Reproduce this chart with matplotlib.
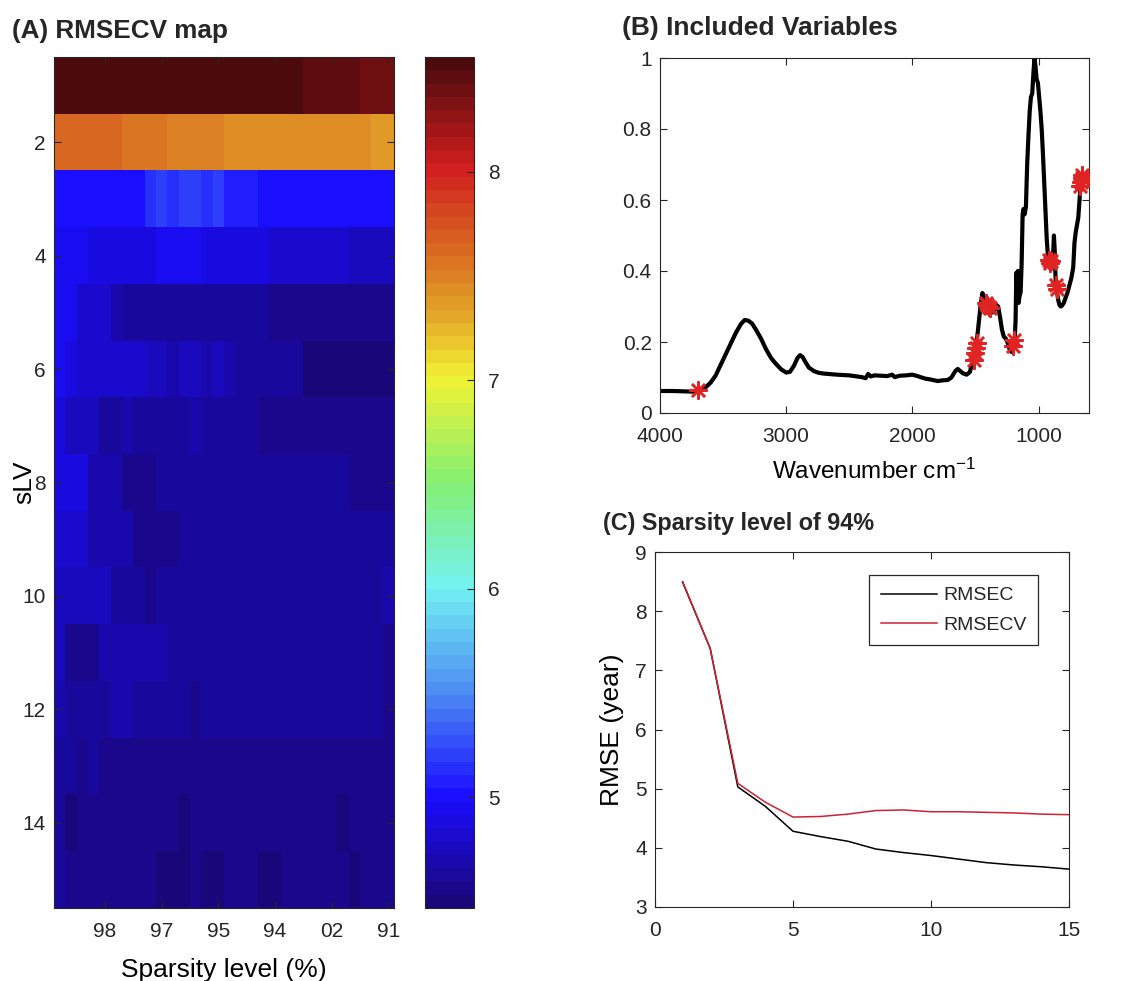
import numpy as np
import matplotlib
matplotlib.use("Agg")
import matplotlib.pyplot as plt
from matplotlib.colors import LinearSegmentedColormap

plt.rcParams.update({
    "font.family": ["Liberation Sans", "DejaVu Sans"],
    "mathtext.fontset": "custom",
    "mathtext.rm": "Liberation Sans",
    "mathtext.it": "Liberation Sans",
    "text.color": "#262626",
})

W, H = 1147, 981
TXT = "#262626"

# (A) RMSECV map : 15 sLV x 30 sparsity levels
rmsecv_map = np.array([
    [8.51, 8.51, 8.50, 8.51, 8.50, 8.50, 8.51, 8.50, 8.50, 8.51, 8.50, 8.50, 8.51, 8.50, 8.50, 8.50, 8.50, 8.51, 8.50, 8.50, 8.50, 8.49, 8.43, 8.43, 8.44, 8.43, 8.43, 8.38, 8.38, 8.39],
    [7.63, 7.64, 7.63, 7.62, 7.63, 7.62, 7.55, 7.55, 7.56, 7.55, 7.48, 7.48, 7.49, 7.48, 7.48, 7.43, 7.43, 7.42, 7.43, 7.43, 7.42, 7.43, 7.43, 7.42, 7.43, 7.43, 7.42, 7.43, 7.35, 7.35],
    [4.98, 4.99, 4.98, 4.98, 4.99, 4.98, 4.98, 4.99, 5.17, 5.18, 5.17, 5.23, 5.18, 5.17, 5.18, 5.10, 5.09, 5.10, 5.00, 4.99, 4.99, 5.00, 4.99, 4.99, 4.98, 4.99, 4.99, 4.98, 4.98, 4.99],
    [4.97, 4.97, 4.96, 4.89, 4.89, 4.90, 4.89, 4.89, 4.90, 4.95, 4.96, 4.95, 4.95, 4.89, 4.88, 4.88, 4.89, 4.88, 4.88, 4.80, 4.81, 4.80, 4.80, 4.81, 4.80, 4.80, 4.77, 4.77, 4.78, 4.77],
    [4.93, 4.92, 4.80, 4.80, 4.79, 4.67, 4.66, 4.65, 4.66, 4.65, 4.64, 4.65, 4.66, 4.65, 4.64, 4.64, 4.65, 4.64, 4.63, 4.58, 4.57, 4.58, 4.57, 4.57, 4.58, 4.57, 4.57, 4.58, 4.57, 4.57],
    [4.92, 4.91, 4.80, 4.79, 4.80, 4.80, 4.79, 4.80, 4.73, 4.73, 4.72, 4.73, 4.73, 4.72, 4.73, 4.72, 4.66, 4.66, 4.65, 4.66, 4.66, 4.65, 4.53, 4.52, 4.52, 4.53, 4.52, 4.52, 4.53, 4.52],
    [4.90, 4.78, 4.78, 4.77, 4.66, 4.66, 4.67, 4.66, 4.66, 4.65, 4.66, 4.66, 4.67, 4.66, 4.65, 4.66, 4.66, 4.65, 4.57, 4.57, 4.58, 4.57, 4.57, 4.56, 4.57, 4.57, 4.58, 4.57, 4.57, 4.57],
    [4.86, 4.88, 4.90, 4.72, 4.72, 4.71, 4.56, 4.55, 4.56, 4.63, 4.63, 4.64, 4.63, 4.63, 4.62, 4.63, 4.64, 4.63, 4.63, 4.62, 4.63, 4.63, 4.64, 4.63, 4.63, 4.62, 4.58, 4.58, 4.57, 4.58],
    [4.82, 4.83, 4.81, 4.70, 4.70, 4.71, 4.70, 4.57, 4.56, 4.57, 4.58, 4.63, 4.63, 4.64, 4.63, 4.63, 4.62, 4.63, 4.63, 4.64, 4.63, 4.63, 4.62, 4.63, 4.63, 4.64, 4.63, 4.63, 4.62, 4.63],
    [4.75, 4.76, 4.75, 4.74, 4.75, 4.60, 4.61, 4.60, 4.59, 4.60, 4.60, 4.61, 4.64, 4.64, 4.63, 4.64, 4.64, 4.63, 4.64, 4.64, 4.63, 4.64, 4.64, 4.63, 4.64, 4.64, 4.63, 4.64, 4.64, 4.70],
    [4.75, 4.58, 4.57, 4.58, 4.68, 4.68, 4.67, 4.68, 4.68, 4.67, 4.62, 4.62, 4.64, 4.64, 4.63, 4.64, 4.64, 4.63, 4.64, 4.64, 4.63, 4.64, 4.64, 4.63, 4.64, 4.64, 4.63, 4.64, 4.63, 4.58],
    [4.70, 4.62, 4.62, 4.61, 4.62, 4.68, 4.68, 4.60, 4.60, 4.61, 4.60, 4.60, 4.59, 4.60, 4.60, 4.61, 4.60, 4.66, 4.66, 4.66, 4.60, 4.66, 4.66, 4.65, 4.66, 4.60, 4.60, 4.61, 4.60, 4.59],
    [4.66, 4.60, 4.59, 4.60, 4.58, 4.58, 4.59, 4.58, 4.58, 4.59, 4.58, 4.58, 4.59, 4.58, 4.58, 4.59, 4.58, 4.58, 4.59, 4.58, 4.58, 4.59, 4.58, 4.58, 4.59, 4.58, 4.58, 4.59, 4.58, 4.58],
    [4.62, 4.53, 4.58, 4.58, 4.57, 4.58, 4.58, 4.57, 4.58, 4.58, 4.57, 4.53, 4.58, 4.58, 4.57, 4.58, 4.58, 4.57, 4.58, 4.58, 4.57, 4.58, 4.58, 4.57, 4.58, 4.53, 4.58, 4.57, 4.58, 4.58],
    [4.60, 4.57, 4.57, 4.56, 4.57, 4.57, 4.56, 4.57, 4.57, 4.52, 4.52, 4.53, 4.57, 4.52, 4.52, 4.57, 4.56, 4.57, 4.52, 4.52, 4.57, 4.56, 4.57, 4.57, 4.56, 4.57, 4.52, 4.57, 4.57, 4.56],
])
sparsity_tick_pos = [5, 10, 15, 20, 25, 30]
sparsity_tick_lab = ["98", "97", "95", "94", "02", "91"]
slv_ticks = [2, 4, 6, 8, 10, 12, 14]
cbar_ticks = [5, 6, 7, 8]
cbar_lim = (4.47, 8.55)

# (B) spectre moyen + variables retenues
wavenumber = [4000, 3900, 3800, 3720, 3680, 3640, 3600, 3560, 3520, 3480, 3440, 3400, 3360, 3330,
              3300, 3270, 3240, 3200, 3160, 3120, 3080, 3040, 3000, 2970, 2940, 2910, 2890, 2870,
              2850, 2820, 2780, 2740, 2700, 2600, 2500, 2400, 2370, 2350, 2330, 2300, 2200, 2160,
              2140, 2100, 2050, 2000, 1960, 1900, 1850, 1800, 1760, 1720, 1690, 1660, 1640, 1620,
              1600, 1570, 1545, 1525, 1505, 1490, 1475, 1460, 1445, 1435, 1420, 1400, 1380, 1365,
              1350, 1335, 1320, 1305, 1290, 1275, 1260, 1245, 1230, 1215, 1200, 1190, 1182, 1176,
              1170, 1164, 1158, 1150, 1142, 1134, 1126, 1118, 1110, 1100, 1090, 1080, 1070, 1060,
              1050, 1040, 1032, 1025, 1015, 1005, 995, 985, 975, 965, 955, 945, 935, 925, 915, 905,
              895, 885, 878, 872, 865, 855, 845, 835, 825, 815, 800, 785, 770, 755, 740, 725, 715,
              705, 695, 685, 675, 665, 655, 645]
absorbance = [0.062, 0.062, 0.061, 0.060, 0.064, 0.072, 0.085, 0.105, 0.135, 0.165, 0.195, 0.225, 0.250, 0.262,
              0.260, 0.252, 0.235, 0.210, 0.180, 0.155, 0.138, 0.123, 0.114, 0.116, 0.132, 0.155, 0.163, 0.158,
              0.145, 0.128, 0.118, 0.113, 0.111, 0.108, 0.106, 0.101, 0.098, 0.110, 0.103, 0.106, 0.104, 0.108,
              0.101, 0.105, 0.106, 0.108, 0.104, 0.097, 0.094, 0.090, 0.092, 0.093, 0.100, 0.118, 0.124, 0.118,
              0.112, 0.108, 0.115, 0.140, 0.175, 0.200, 0.250, 0.300, 0.338, 0.330, 0.310, 0.305, 0.295, 0.283,
              0.288, 0.305, 0.300, 0.270, 0.235, 0.215, 0.210, 0.198, 0.180, 0.172, 0.185, 0.200, 0.260, 0.395,
              0.340, 0.400, 0.310, 0.330, 0.340, 0.420, 0.560, 0.575, 0.560, 0.580, 0.700, 0.780, 0.850, 0.890,
              0.900, 0.960, 1.000, 0.980, 0.940, 0.930, 0.890, 0.850, 0.800, 0.730, 0.650, 0.570, 0.490, 0.440,
              0.425, 0.420, 0.425, 0.440, 0.500, 0.460, 0.380, 0.345, 0.320, 0.305, 0.300, 0.302, 0.310, 0.325,
              0.340, 0.360, 0.380, 0.410, 0.480, 0.510, 0.530, 0.550, 0.600, 0.650, 0.660, 0.670]
sel_wn = [3696, 1515, 1505, 1497, 1490, 1420, 1408, 1396, 1386, 1200, 1192,
          918, 908, 898, 858, 852, 668, 662, 657, 652]
sel_abs = [0.064, 0.150, 0.168, 0.182, 0.198, 0.310, 0.305, 0.300, 0.295, 0.188, 0.205,
           0.430, 0.422, 0.428, 0.360, 0.350, 0.640, 0.652, 0.662, 0.670]

# (C) sparsité 94 %
n_lv = [1, 2, 3, 4, 5, 6, 7, 8, 9, 10, 11, 12, 13, 14, 15]
rmsec = [8.49, 7.37, 5.03, 4.70, 4.28, 4.19, 4.11, 3.98, 3.92, 3.87, 3.81, 3.75, 3.71, 3.68, 3.64]
rmsecv = [8.50, 7.37, 5.09, 4.77, 4.52, 4.53, 4.57, 4.63, 4.64, 4.61, 4.61, 4.60, 4.59, 4.57, 4.56]

# jet assombri, comme dans la figure d'origine
JET_SOMBRE = [
    (0.000, (0.10, 0.03, 0.48)),
    (0.125, (0.10, 0.05, 1.00)),
    (0.250, (0.30, 0.55, 0.95)),
    (0.375, (0.45, 0.95, 0.95)),
    (0.500, (0.52, 0.94, 0.45)),
    (0.625, (0.95, 0.95, 0.20)),
    (0.700, (0.89, 0.65, 0.16)),
    (0.775, (0.85, 0.42, 0.13)),
    (0.875, (0.82, 0.12, 0.12)),
    (1.000, (0.30, 0.04, 0.05)),
]


def matlab_axes(ax, xpad=10, ypad=6):
    ax.tick_params(direction="in", top=True, right=True, length=5, width=0.8,
                   color=TXT, labelcolor=TXT, labelsize=15)
    ax.tick_params(axis="x", pad=xpad)
    ax.tick_params(axis="y", pad=ypad)
    for sp in ax.spines.values():
        sp.set_linewidth(0.8)
        sp.set_color(TXT)


fig = plt.figure(figsize=(W / 100, H / 100), dpi=100)

# ---- (A)
axA = fig.add_axes([54 / W, 1 - 908 / H, 340 / W, 851 / H])
cmap = LinearSegmentedColormap.from_list("jet_sombre", JET_SOMBRE, N=64)
ncol = rmsecv_map.shape[1]
nrow = rmsecv_map.shape[0]
im = axA.imshow(rmsecv_map, cmap=cmap, vmin=cbar_lim[0], vmax=cbar_lim[1], aspect="auto",
                interpolation="nearest", extent=(0.5, ncol + 0.5, nrow + 0.5, 0.5))
axA.set_xticks(sparsity_tick_pos)
axA.set_xticklabels(sparsity_tick_lab)
axA.set_yticks(slv_ticks)
matlab_axes(axA)
axA.set_xlabel("Sparsity level (%)", fontsize=19, labelpad=12)
# dans la figure d'origine le label "sLV" chevauche la graduation 8
axA.set_ylabel("sLV", fontsize=19)
axA.yaxis.set_label_coords(-0.052, 0.5)

cax = fig.add_axes([425 / W, 1 - 908 / H, 49 / W, 851 / H])
cb = fig.colorbar(im, cax=cax, ticks=cbar_ticks)
cb.ax.tick_params(direction="in", length=5, width=0.8, color=TXT, labelcolor=TXT,
                  labelsize=15, pad=10)
cb.outline.set_linewidth(0.8)
cb.outline.set_edgecolor(TXT)

# ---- (B)
axB = fig.add_axes([660 / W, 1 - 413 / H, 429 / W, 355 / H])
axB.plot(wavenumber, absorbance, color="black", lw=3.0, zorder=2)
axB.plot(sel_wn, sel_abs, linestyle="none", marker=(8, 2, 0), markersize=13,
         markeredgewidth=1.8, color="#e02424", zorder=3)
axB.set_xlim(4000, 600)
axB.set_ylim(0, 1)
axB.set_xticks([4000, 3000, 2000, 1000])
axB.set_yticks([0, 0.2, 0.4, 0.6, 0.8, 1])
axB.set_yticklabels(["0", "0.2", "0.4", "0.6", "0.8", "1"])
matlab_axes(axB)
axB.set_xlabel("Wavenumber cm$^{-1}$", fontsize=17.5, labelpad=9)

# ---- (C)
axC = fig.add_axes([655 / W, 1 - 907 / H, 414 / W, 355 / H])
axC.plot(n_lv, rmsec, color="black", lw=1.1, label="RMSEC")
axC.plot(n_lv, rmsecv, color="#cc2233", lw=1.1, label="RMSECV")
axC.set_xlim(0, 15)
axC.set_ylim(3, 9)
axC.set_xticks([0, 5, 10, 15])
axC.set_yticks([3, 4, 5, 6, 7, 8, 9])
matlab_axes(axC)
axC.set_ylabel("RMSE (year)", fontsize=19, labelpad=8)
leg = axC.legend(loc="upper right", bbox_to_anchor=(0.925, 0.935), borderaxespad=0,
                 fontsize=14, handlelength=2.9, handletextpad=0.3, fancybox=False,
                 framealpha=1, edgecolor=TXT, borderpad=0.6, labelspacing=0.6)
leg.get_frame().set_linewidth(0.9)

# ---- titres
fig.text(12 / W, 1 - 38 / H, "(A) RMSECV map", fontsize=18.8, fontweight="bold", va="baseline")
fig.text(622 / W, 1 - 35 / H, "(B) Included Variables", fontsize=19, fontweight="bold", va="baseline")
fig.text(603 / W, 1 - 530 / H, "(C) Sparsity level of 94%", fontsize=16.8, fontweight="bold", va="baseline")

fig.savefig("out.png", dpi=100)
plt.close(fig)
